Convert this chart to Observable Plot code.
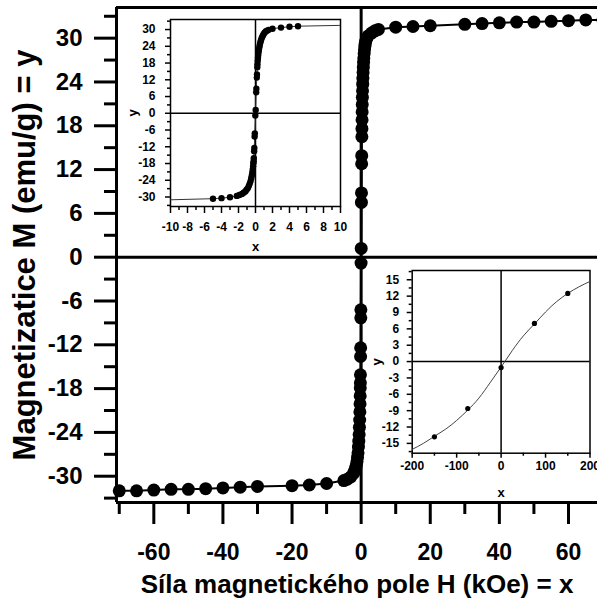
<!DOCTYPE html>
<html>
<head>
<meta charset="utf-8">
<script src="https://cdn.jsdelivr.net/npm/d3@7"></script>
<script src="https://cdn.jsdelivr.net/npm/@observablehq/plot@0.6"></script>
<style>
  html, body { margin: 0; padding: 0; background: white; overflow: hidden; }
  #wrap { position: relative; width: 597px; height: 599px; overflow: hidden; }
  .inset { position: absolute; }
  svg { display: block; max-width: none !important; }
</style>
</head>
<body>
<div id="wrap"></div>
<script>
// ---- main data: field H (kOe) and magnetization M (emu/g) ----
const fieldH = [-70,-65,-60,-55,-50,-45,-40,-35,-30,-20,-15,-10,-5,-4,-3,-2.2,-1.9,-1.6,-1.4,-1.2,-1.05,-0.9,-0.78,-0.68,-0.58,-0.5,-0.43,-0.37,-0.32,-0.28,-0.25,-0.22,-0.2,-0.16,-0.14,-0.1,-0.08,-0.02,0.02,0.08,0.1,0.15,0.17,0.21,0.23,0.26,0.29,0.32,0.36,0.4,0.45,0.5,0.56,0.63,0.7,0.78,0.87,0.97,1.08,1.2,1.35,1.55,2,3,4,5,10,15,20,30,35,40,45,50,55,60,65,70];
const magnetM = [-32.0,-32.0,-31.9,-31.8,-31.8,-31.7,-31.6,-31.5,-31.4,-31.3,-31.2,-31.0,-30.6,-30.4,-30.1,-29.6,-29.3,-28.9,-28.5,-28.0,-27.4,-26.8,-26.0,-25.2,-24.3,-23.3,-22.3,-21.2,-20.1,-19.0,-17.9,-17.2,-16.1,-13.6,-12.4,-8.3,-7.2,-0.8,1.2,7.5,8.8,12.8,13.9,16.5,17.6,18.8,19.9,20.9,21.9,22.8,23.7,24.5,25.3,26.0,26.7,27.3,27.9,28.4,28.9,29.3,29.6,29.9,30.3,30.7,31.0,31.2,31.5,31.6,31.7,31.9,32.0,32.1,32.2,32.2,32.3,32.4,32.5,32.5];

// ---- low-field inset data (H in Oe) ----
const lowH = [-150,-75,0,75,150];
const lowM = [-13.8,-8.6,-1.1,7.0,12.5];
const fitH = [-200,-175,-150,-125,-100,-75,-50,-25,0,25,50,75,100,125,150,175,200];
const fitM = [-16.1,-15.0,-13.7,-12.4,-10.8,-8.9,-6.7,-3.9,-1.0,2.0,4.7,6.9,9.1,11.0,12.5,13.7,14.7];

// ---- ticks & labels ----
const mainXMajor = [-60,-40,-20,0,20,40,60];
const mainXMinor = [-70,-50,-30,-10,10,30,50];
const mainYMajor = [-30,-24,-18,-12,-6,0,6,12,18,24,30];
const mainYMinor = [-33,-27,-21,-15,-9,-3,3,9,15,21,27,33];
const in1XMajor = [-10,-8,-6,-4,-2,0,2,4,6,8,10];
const in1XMinor = [-9,-7,-5,-3,-1,1,3,5,7,9];
const in1YMajor = [-30,-24,-18,-12,-6,0,6,12,18,24,30];
const in1YMinor = [-33,-27,-21,-15,-9,-3,3,9,15,21,27,33];
const in2XMajor = [-200,-100,0,100,200];
const in2XMinor = [-150,-50,50,150];
const in2YMajor = [-15,-12,-9,-6,-3,0,3,6,9,12,15];
const in2YMinor = [-16.5,-13.5,-10.5,-7.5,-4.5,-1.5,1.5,4.5,7.5,10.5,13.5,16.5];
const xTitle = "Síla magnetického pole H (kOe) = x";
const yTitle = "Magnetizatice M (emu/g) = y";

const mainData = fieldH.map((h, i) => ({h, m: magnetM[i]}));
const inset1Dots = mainData.filter(d => Math.abs(d.h) < 10);
const lowData = lowH.map((h, i) => ({h, m: lowM[i]}));
const fitData = fitH.map((h, i) => ({h, m: fitM[i]}));

const FONT = "'Liberation Sans', Arial, sans-serif";
const str = d => String(d);
const blank = () => "";

const mainXDom = [-70.8, 68.4];
const mainYDom = [-33.6, 34.2];

const main = Plot.plot({
  width: 597, height: 599,
  marginLeft: 116, marginRight: 0, marginTop: 7, marginBottom: 97,
  x: {domain: mainXDom},
  y: {domain: mainYDom},
  style: {fontFamily: FONT, fontWeight: "bold", background: "white", color: "black", overflow: "visible"},
  marks: [
    Plot.ruleX([0], {strokeWidth: 3}),
    Plot.ruleY([0], {strokeWidth: 3}),
    Plot.ruleY([mainYDom[1]], {strokeWidth: 3}),
    Plot.ruleY([mainYDom[0]], {strokeWidth: 3}),
    Plot.ruleX([mainXDom[0]], {strokeWidth: 3, y1: mainYDom[0], y2: mainYDom[1]}),
    Plot.axisY(mainYMajor, {tickSize: 22, tickPadding: 12, strokeWidth: 3, fontSize: 24, tickFormat: str, label: null}),
    Plot.axisY(mainYMinor, {tickSize: 12, strokeWidth: 3, tickFormat: blank, label: null}),
    Plot.axisX(mainXMajor, {anchor: "bottom", tickSize: 22, tickPadding: 19, strokeWidth: 3, fontSize: 23, tickFormat: str, label: null}),
    Plot.axisX(mainXMinor, {anchor: "bottom", tickSize: 12, strokeWidth: 3, tickFormat: blank, label: null}),
    Plot.line(mainData, {x: "h", y: "m", strokeWidth: 2}),
    Plot.dot(mainData, {x: "h", y: "m", r: 6.5, fill: "black", stroke: null}),
    Plot.text([yTitle], {text: d => d, frameAnchor: "left", textAnchor: "middle", lineAnchor: "middle", dx: -91, rotate: -90, fontSize: 31, fontWeight: "bold"}),
    Plot.text([xTitle], {text: d => d, frameAnchor: "bottom", textAnchor: "middle", lineAnchor: "middle", dy: 82, fontSize: 26, fontWeight: "bold"})
  ]
});

const inset1 = Plot.plot({
  width: 230, height: 243,
  marginLeft: 50, marginRight: 10, marginTop: 7, marginBottom: 49,
  x: {domain: [-10, 10]},
  y: {domain: [-33.4, 33.6]},
  style: {fontFamily: FONT, fontWeight: "bold", background: "white", color: "black"},
  marks: [
    Plot.frame({strokeWidth: 1.5}),
    Plot.ruleX([0], {strokeWidth: 1.5}),
    Plot.ruleY([0], {strokeWidth: 1.5}),
    Plot.axisY(in1YMajor, {tickSize: 5, tickPadding: 10, strokeWidth: 1.5, fontSize: 12, tickFormat: str, label: null}),
    Plot.axisY(in1YMinor, {tickSize: 3, strokeWidth: 1.5, tickFormat: blank, label: null}),
    Plot.axisX(in1XMajor, {anchor: "bottom", tickSize: 7, tickPadding: 9, strokeWidth: 1.5, fontSize: 12, tickFormat: str, label: null}),
    Plot.axisX(in1XMinor, {anchor: "bottom", tickSize: 4, strokeWidth: 1.5, tickFormat: blank, label: null}),
    Plot.line(mainData, {x: "h", y: "m", stroke: "#333", strokeWidth: 1, clip: true}),
    Plot.dot(inset1Dots, {x: "h", y: "m", r: 3.2, fill: "black", stroke: null}),
    Plot.text(["x"], {text: d => d, frameAnchor: "bottom", textAnchor: "middle", lineAnchor: "middle", dy: 40, fontSize: 13, fontWeight: "bold"}),
    Plot.text(["y"], {text: d => d, frameAnchor: "left", textAnchor: "middle", lineAnchor: "middle", dx: -38, rotate: -90, fontSize: 13, fontWeight: "bold"})
  ]
});

const inset2 = Plot.plot({
  width: 240, height: 238,
  marginLeft: 41.7, marginRight: 20.5, marginTop: 8, marginBottom: 47.3,
  x: {domain: [-200, 200]},
  y: {domain: [-16.8, 16.7]},
  style: {fontFamily: FONT, fontWeight: "bold", background: "white", color: "black"},
  marks: [
    Plot.frame({strokeWidth: 1.5}),
    Plot.ruleX([0], {strokeWidth: 1.5}),
    Plot.ruleY([0], {strokeWidth: 1.5}),
    Plot.axisY(in2YMajor, {tickSize: 5, tickPadding: 8, strokeWidth: 1.5, fontSize: 12, tickFormat: str, label: null}),
    Plot.axisY(in2YMinor, {tickSize: 3, strokeWidth: 1.5, tickFormat: blank, label: null}),
    Plot.axisX(in2XMajor, {anchor: "bottom", tickSize: 5, tickPadding: 3, strokeWidth: 1.5, fontSize: 12, tickFormat: str, label: null}),
    Plot.axisX(in2XMinor, {anchor: "bottom", tickSize: 3, strokeWidth: 1.5, tickFormat: blank, label: null}),
    Plot.line(fitData, {x: "h", y: "m", stroke: "#444", strokeWidth: 1, curve: "natural", clip: true}),
    Plot.dot(lowData, {x: "h", y: "m", r: 2.6, fill: "black", stroke: null}),
    Plot.text(["x"], {text: d => d, frameAnchor: "bottom", textAnchor: "middle", lineAnchor: "middle", dy: 40, fontSize: 13, fontWeight: "bold"}),
    Plot.text(["y"], {text: d => d, frameAnchor: "left", textAnchor: "middle", lineAnchor: "middle", dx: -35, rotate: -90, fontSize: 13, fontWeight: "bold"})
  ]
});

const wrap = document.getElementById("wrap");
wrap.appendChild(main);
const d1 = document.createElement("div");
d1.className = "inset"; d1.style.left = "120px"; d1.style.top = "12px"; d1.style.width = "230px";
d1.appendChild(inset1);
wrap.appendChild(d1);
const d2 = document.createElement("div");
d2.className = "inset"; d2.style.left = "370px"; d2.style.top = "262px"; d2.style.width = "240px";
d2.appendChild(inset2);
wrap.appendChild(d2);
</script>
</body>
</html>
